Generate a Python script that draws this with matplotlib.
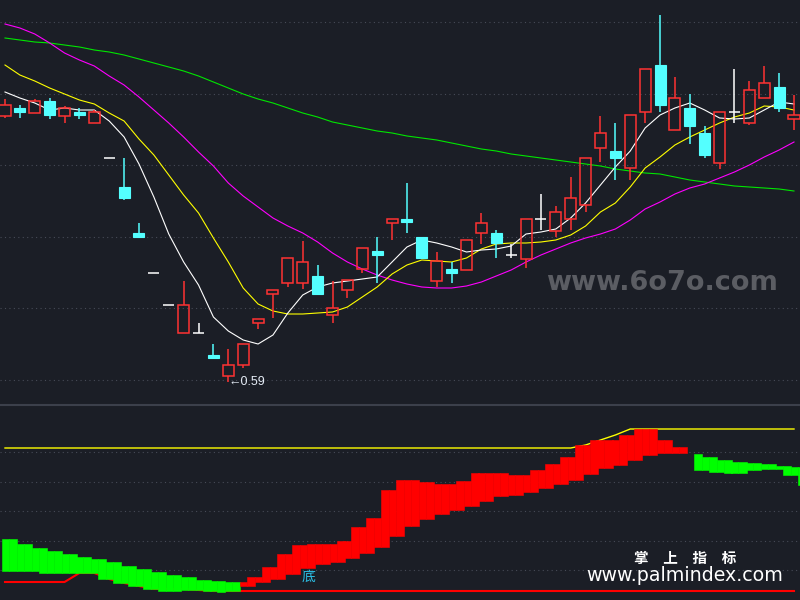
import matplotlib
matplotlib.use('Agg')
import matplotlib.pyplot as plt
from matplotlib.patches import Rectangle

# ---------------- data ----------------
opens = [0.856,0.864,0.859,0.871,0.856,0.860,0.849,0.814,0.785,0.739,
         0.699,0.667,0.639,0.639,0.617,0.596,0.607,0.649,0.678,0.689,
         0.689,0.696,0.657,0.682,0.703,0.721,0.749,0.753,0.735,0.691,
         0.703,0.702,0.739,0.739,0.717,0.713,0.753,0.741,0.753,0.767,
         0.824,0.821,0.804,0.860,0.907,0.842,0.864,0.839,0.809,0.860,
         0.849,0.874,0.885,0.853]
highs = [0.873,0.867,0.873,0.874,0.866,0.864,0.862,0.814,0.814,0.749,
         0.699,0.667,0.691,0.649,0.628,0.623,0.628,0.653,0.682,0.714,
         0.731,0.707,0.691,0.692,0.724,0.735,0.753,0.789,0.735,0.720,
         0.710,0.732,0.759,0.742,0.728,0.753,0.778,0.766,0.795,0.814,
         0.856,0.849,0.857,0.903,0.957,0.895,0.878,0.846,0.860,0.903,
         0.891,0.906,0.899,0.877]
lows = [0.854,0.854,0.859,0.853,0.849,0.853,0.849,0.814,0.772,0.735,
        0.699,0.667,0.639,0.639,0.614,0.590,0.604,0.643,0.654,0.685,
        0.683,0.678,0.649,0.674,0.699,0.689,0.732,0.739,0.714,0.685,
        0.689,0.702,0.728,0.714,0.714,0.704,0.742,0.735,0.742,0.760,
        0.810,0.792,0.792,0.849,0.860,0.842,0.828,0.814,0.803,0.849,
        0.847,0.874,0.860,0.842]
closes = [0.867,0.860,0.871,0.857,0.864,0.857,0.860,0.814,0.774,0.735,
          0.699,0.667,0.667,0.639,0.614,0.607,0.628,0.653,0.682,0.714,
          0.710,0.678,0.664,0.692,0.724,0.717,0.753,0.750,0.714,0.711,
          0.699,0.732,0.749,0.729,0.717,0.753,0.753,0.760,0.774,0.814,
          0.839,0.814,0.857,0.903,0.867,0.874,0.846,0.817,0.860,0.860,
          0.882,0.889,0.864,0.857]

ma5 = [0.880,0.874,0.869,0.862,0.864,0.862,0.862,0.851,0.835,0.808,
       0.775,0.738,0.710,0.687,0.655,0.641,0.632,0.628,0.637,0.659,
       0.677,0.685,0.689,0.691,0.693,0.695,0.710,0.725,0.732,0.729,
       0.725,0.720,0.722,0.723,0.726,0.738,0.740,0.743,0.754,0.769,
       0.787,0.805,0.821,0.844,0.857,0.864,0.869,0.862,0.854,0.853,
       0.854,0.862,0.870,0.868]
ma10 = [0.907,0.897,0.891,0.884,0.878,0.872,0.868,0.859,0.851,0.833,
        0.817,0.797,0.777,0.759,0.734,0.710,0.684,0.668,0.661,0.658,
        0.658,0.659,0.660,0.665,0.675,0.685,0.698,0.707,0.712,0.711,
        0.710,0.714,0.723,0.728,0.729,0.729,0.730,0.732,0.737,0.746,
        0.760,0.769,0.785,0.804,0.815,0.827,0.835,0.842,0.849,0.855,
        0.859,0.866,0.865,0.862]
ma20 = [0.948,0.944,0.938,0.929,0.919,0.912,0.906,0.896,0.887,0.875,
        0.862,0.849,0.835,0.820,0.806,0.789,0.776,0.765,0.754,0.746,
        0.739,0.730,0.719,0.710,0.703,0.697,0.692,0.688,0.685,0.684,
        0.684,0.686,0.690,0.696,0.702,0.710,0.717,0.723,0.729,0.734,
        0.738,0.743,0.752,0.763,0.770,0.778,0.784,0.788,0.794,0.800,
        0.807,0.815,0.822,0.830]
ma60 = [0.934,0.932,0.930,0.929,0.927,0.925,0.922,0.920,0.917,0.913,
        0.909,0.905,0.901,0.896,0.890,0.884,0.878,0.873,0.869,0.864,
        0.859,0.855,0.850,0.847,0.844,0.841,0.839,0.836,0.834,0.832,
        0.829,0.826,0.823,0.821,0.818,0.816,0.814,0.812,0.810,0.808,
        0.806,0.803,0.801,0.799,0.798,0.795,0.792,0.790,0.788,0.786,
        0.785,0.784,0.783,0.781]

price_grid = [0.950, 0.878, 0.807, 0.735, 0.664, 0.592]

# lower indicator
band_top = [61,56,52,49,46,43,41,38,34,31,
            28,25,23,20,19,18,23,33,46,55,
            56,56,59,73,82,110,120,120,118,116,
            119,127,127,127,125,130,136,143,155,160,
            160,165,171,171,160,153,146,143,140,138,
            137,136,134,133]
band_bot = [29,29,27,27,27,27,21,17,14,11,
            9,9,10,9,8,9,14,18,21,26,
            32,36,38,42,47,53,64,74,81,86,
            90,94,99,104,105,108,112,116,120,126,
            132,135,140,145,147,147,130,128,127,127,
            130,131,125,115]
band_up = [0]*16 + [1]*30 + [0]*8
red_line = [18,18,18,18,18,27,27,21,17,14,
            11,11,11,10] + [9]*40
yellow_line = [152]*39 + [155,160,165,171] + [171]*11
ind_grid = [148, 118, 89, 59, 30]
bottom_label = '底'
bottom_idx = 20
bottom_val = 23

# ---------------- style ----------------
BG = '#1b1e26'
GRID = '#474b57'
UP = '#ff3232'
DOWN = '#54ffff'
DOJI = '#ffffff'
n = len(closes)
xl = (-5/14.887, 53 + 6/14.887)

fig = plt.figure(figsize=(8, 6), dpi=100, facecolor=BG)
split = 405/600
ax = fig.add_axes([0, 1-split, 1, split])
ax2 = fig.add_axes([0, 0, 1, 1-split])
for a in (ax, ax2):
    a.set_facecolor(BG)
    a.set_xlim(*xl)
    a.set_xticks([]); a.set_yticks([])
    for s in a.spines.values():
        s.set_visible(False)

ax.set_ylim(0.567, 0.972)
ax2.set_ylim(0, 195)

ax.hlines(price_grid, xl[0], xl[1], colors=GRID, linestyles=(0, (1, 3)), lw=0.8, zorder=0)
ax2.hlines(ind_grid, xl[0], xl[1], colors=GRID, linestyles=(0, (1, 3)), lw=0.8, zorder=0)

# moving averages
xs = list(range(n))
ax.plot(xs, ma60, color='#00e600', lw=0.8, zorder=1)
ax.plot(xs, ma20, color='#ff00ff', lw=0.8, zorder=1)
ax.plot(xs, ma10, color='#ffff00', lw=0.8, zorder=1)
ax.plot(xs, ma5, color='#ffffff', lw=0.8, zorder=1)

# candles
bw = 0.74
for i in range(n):
    o, h, l, c = opens[i], highs[i], lows[i], closes[i]
    if abs(o - c) < 1e-9:
        ax.hlines(o, i - bw/2, i + bw/2, colors=DOJI, lw=1.1, zorder=3)
        if h > l:
            ax.vlines(i, l, h, colors=DOJI, lw=1.1, zorder=3)
    elif c > o:
        ax.add_patch(Rectangle((i - bw/2, o), bw, c - o, fill=False,
                               edgecolor=UP, lw=1.1, zorder=3))
        if h > c:
            ax.vlines(i, c, h, colors=UP, lw=1.1, zorder=3)
        if l < o:
            ax.vlines(i, l, o, colors=UP, lw=1.1, zorder=3)
    else:
        ax.vlines(i, l, h, colors=DOWN, lw=1.1, zorder=3)
        ax.add_patch(Rectangle((i - bw/2, c), bw, o - c, facecolor=DOWN,
                               edgecolor=DOWN, lw=0.8, zorder=4))

ax.text(15, lows[15], '←' + f'{lows[15]:.2f}', ha='left', va='center',
        fontsize=9, color='#e4ebf5', family=['Liberation Sans', 'DejaVu Sans'], zorder=5)

# lower panel
ax2.plot(xs, red_line, color='#ff0000', lw=1.5, zorder=1)
ax2.plot(xs, yellow_line, color='#ffff00', lw=1.0, zorder=1)
for i in range(n):
    col = '#ff0000' if band_up[i] else '#00ff00'
    ax2.bar(i + 0.27, band_top[i] - band_bot[i], width=0.54, bottom=band_bot[i],
            align='edge', color=col, edgecolor=col, lw=0.4, zorder=2)
    if i > 0:
        lo = max(band_bot[i-1], band_bot[i]); hi = min(band_top[i-1], band_top[i])
    else:
        lo, hi = band_bot[0], band_top[0]
    if hi > lo:
        ax2.bar(i - 0.2, hi - lo, width=0.47, bottom=lo, align='edge',
                color=col, edgecolor=col, lw=0.4, zorder=2)

ax2.text(bottom_idx - 0.1, bottom_val, bottom_label, ha='left', va='center',
         fontsize=10, color='#2cc0e6', family=['Noto Sans CJK SC', 'DejaVu Sans'], zorder=5)

# separator
fig.add_artist(plt.Line2D([0, 1], [1-split, 1-split], color='#3c404b', lw=1.5,
                          transform=fig.transFigure))

# watermarks
fig.text(662/800, 1-290/600, 'www.6o7o.com', ha='center', va='baseline',
         fontsize=19.5, fontweight='bold', color='#5b5d63', family='DejaVu Sans')
fig.text(685/800, 1-558/600, '掌\u3000上\u3000指\u3000标', ha='center', va='center',
         fontsize=10.5, fontweight='bold', color='#ffffff', family=['Noto Sans CJK SC'])
fig.text(685/800, 1-581/600, 'www.palmindex.com', ha='center', va='baseline',
         fontsize=13.7, color='#ffffff', family='DejaVu Sans')

fig.savefig('out.png', dpi=100, facecolor=BG)
